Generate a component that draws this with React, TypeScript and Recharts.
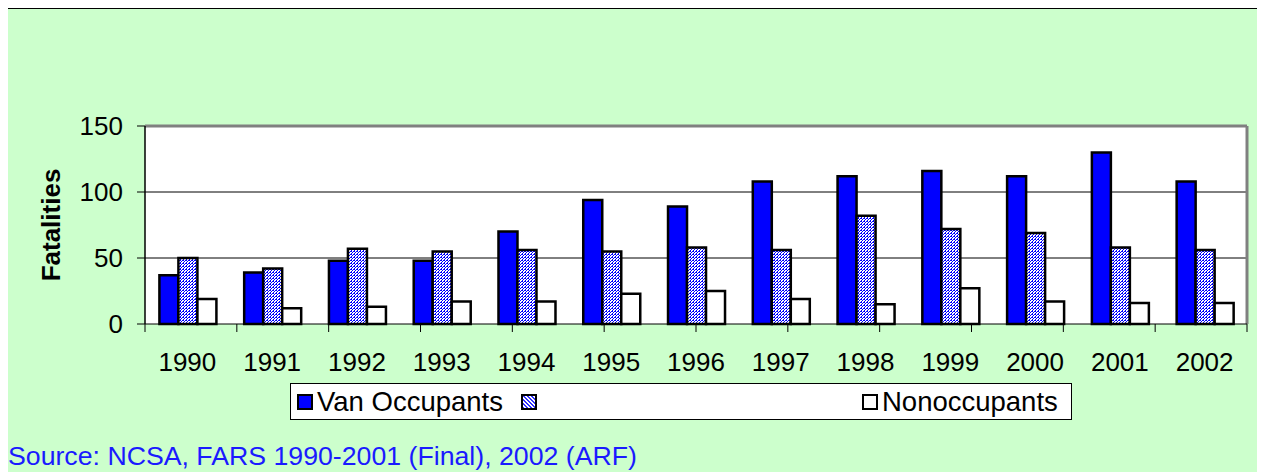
import React from 'react';
import { BarChart, Bar, XAxis, YAxis, CartesianGrid, Legend, ReferenceLine } from 'recharts';

const YEARS = ['1990', '1991', '1992', '1993', '1994', '1995', '1996', '1997', '1998', '1999', '2000', '2001', '2002'];
const VAN_OCCUPANTS = [37, 39, 48, 48, 70, 94, 89, 108, 112, 116, 112, 130, 108];
const OTHER_OCCUPANTS = [50, 42, 57, 55, 56, 55, 58, 56, 82, 72, 69, 58, 56];
const NONOCCUPANTS = [19, 12, 13, 17, 17, 23, 25, 19, 15, 27, 17, 16, 16];
const SERIES_NAMES = ['Van Occupants', '', 'Nonoccupants'];
const Y_TICKS = [0, 50, 100, 150];
const BOUNDARY_TICKS = YEARS.map((_, i) => i).concat([YEARS.length]);
const SOURCE = 'Source: NCSA, FARS 1990-2001 (Final), 2002 (ARF)';

const data = YEARS.map((year, i) => ({
  year,
  van: VAN_OCCUPANTS[i],
  other: OTHER_OCCUPANTS[i],
  non: NONOCCUPANTS[i],
}));

const FONT = '"Liberation Sans", Arial, sans-serif';
const HATCH_CSS = 'repeating-linear-gradient(45deg, #3333ff 0px, #3333ff 1.2px, #ffffff 1.2px, #ffffff 2.8px)';

const LEGEND_ITEMS = [
  { name: SERIES_NAMES[0], bg: '#0000ff', left: 6 },
  { name: SERIES_NAMES[1], bg: HATCH_CSS, left: 230 },
  { name: SERIES_NAMES[2], bg: '#ffffff', left: 571 },
];

const renderLegend = () => (
  <div
    style={{
      width: '100%',
      height: '100%',
      boxSizing: 'border-box',
      border: '1px solid #000',
      background: '#fff',
      position: 'relative',
      fontFamily: FONT,
      fontSize: 27.5,
      color: '#000',
    }}
  >
    {LEGEND_ITEMS.map((it, i) => (
      <div
        key={i}
        style={{ position: 'absolute', left: it.left, top: 0, height: '100%', display: 'flex', alignItems: 'center' }}
      >
        <span
          style={{
            display: 'inline-block',
            width: 12,
            height: 12,
            border: '2px solid #000',
            background: it.bg,
          }}
        />
        <span style={{ marginLeft: 4, whiteSpace: 'pre' }}>{it.name}</span>
      </div>
    ))}
  </div>
);

const renderYLabel = (props: any) => {
  const vb = props.viewBox || {};
  const cx = 43;
  const cy = (vb.y || 0) + (vb.height || 0) / 2;
  return (
    <text
      x={cx}
      y={cy}
      transform={`rotate(-90, ${cx}, ${cy})`}
      textAnchor="middle"
      dominantBaseline="central"
      fontFamily={FONT}
      fontSize={26}
      fontWeight="bold"
      fill="#000"
    >
      Fatalities
    </text>
  );
};

export default function App() {
  return (
    <div
      style={{
        position: 'relative',
        width: 1265,
        height: 472,
        marginLeft: -2,
        borderLeft: '1px solid #000',
        borderTop: '1px solid #000',
        background: '#CCFFCC',
        fontFamily: FONT,
      }}
    >
      <div style={{ position: 'absolute', left: 1, top: -1 }}>
        <BarChart
          width={1257}
          height={464}
          data={data}
          margin={{ top: 118, right: 18, bottom: 80, left: 0 }}
          barGap={0}
          barCategoryGap="17%"
        >
          <defs>
            <pattern id="hatch" width="3" height="3" patternUnits="userSpaceOnUse">
              <rect width="3" height="3" fill="#ffffff" />
              <rect x="0" y="0" width="1" height="1" fill="#0000ff" />
              <rect x="2" y="1" width="1" height="1" fill="#0000ff" />
              <rect x="1" y="2" width="1" height="1" fill="#0000ff" />
              <rect x="1" y="0" width="1" height="1" fill="#0000ff" />
            </pattern>
          </defs>
          <CartesianGrid
            xAxisId="cat"
            yAxisId="left"
            vertical={false}
            horizontalValues={[50, 100]}
            stroke="#000"
            strokeWidth={1}
            fill="#ffffff"
            fillOpacity={1}
          />
          <XAxis
            xAxisId="bounds"
            type="number"
            domain={[0, YEARS.length]}
            ticks={BOUNDARY_TICKS}
            interval={0}
            tickFormatter={() => ''}
            tickSize={8}
            height={8}
            tickLine={{ stroke: '#000', strokeWidth: 1 }}
            axisLine={{ stroke: '#000', strokeWidth: 1 }}
          />
          <XAxis
            xAxisId="cat"
            dataKey="year"
            interval={0}
            height={60}
            tickLine={false}
            axisLine={false}
            tickSize={0}
            tickMargin={21}
            tick={{ fontSize: 26, fill: '#000', fontFamily: FONT }}
          />
          <YAxis
            yAxisId="left"
            domain={[0, 150]}
            ticks={Y_TICKS}
            interval={0}
            width={137}
            tickSize={8}
            tickMargin={14}
            tickLine={{ stroke: '#000' }}
            axisLine={{ stroke: '#000', strokeWidth: 1.5 }}
            tick={{ fontSize: 26, fill: '#000', fontFamily: FONT }}
            label={{ content: renderYLabel }}
          />
          <ReferenceLine yAxisId="left" xAxisId="cat" y={150} stroke="#808080" strokeWidth={3} ifOverflow="visible" />
          <ReferenceLine
            yAxisId="left"
            xAxisId="cat"
            x={YEARS[YEARS.length - 1]}
            position="end"
            stroke="#808080"
            strokeWidth={3}
            ifOverflow="visible"
          />
          <Legend
            layout="horizontal"
            verticalAlign="middle"
            align="center"
            content={renderLegend}
            wrapperStyle={{ left: 282, top: 375, width: 782, height: 37 }}
          />
          <Bar xAxisId="cat" yAxisId="left" dataKey="van" name={SERIES_NAMES[0]} fill="#0000ff" stroke="#000" strokeWidth={2.5} isAnimationActive={false} />
          <Bar xAxisId="cat" yAxisId="left" dataKey="other" name={SERIES_NAMES[1]} fill="url(#hatch)" stroke="#000" strokeWidth={2.5} isAnimationActive={false} />
          <Bar xAxisId="cat" yAxisId="left" dataKey="non" name={SERIES_NAMES[2]} fill="#ffffff" stroke="#000" strokeWidth={2.5} isAnimationActive={false} />
        </BarChart>
      </div>
      <div
        style={{
          position: 'absolute',
          left: 1,
          top: 434,
          fontSize: 26.7,
          lineHeight: '26px',
          color: '#1a1aff',
          whiteSpace: 'nowrap',
        }}
      >
        {SOURCE}
      </div>
    </div>
  );
}
